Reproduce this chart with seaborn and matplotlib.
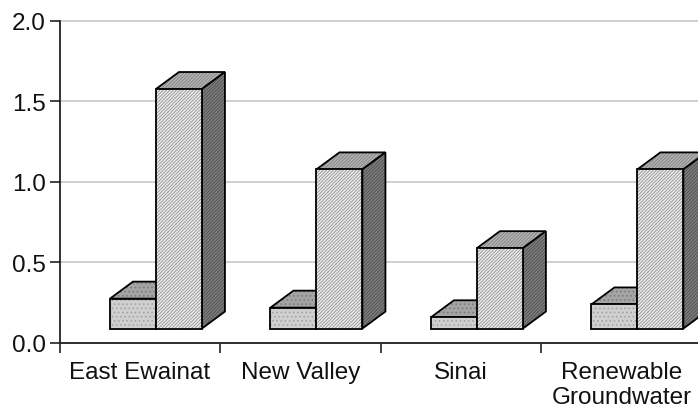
import pandas as pd
import matplotlib.pyplot as plt
import seaborn as sns
from matplotlib.colors import to_rgba
from matplotlib.patches import Polygon

regions = ["East Ewainat", "New Valley", "Sinai", "Renewable\nGroundwater"]
small_values = [0.186, 0.13, 0.07, 0.15]
tall_values = [1.49, 0.99, 0.5, 0.99]
y_ticks = [0.0, 0.5, 1.0, 1.5, 2.0]

# the 3D look: bars stand on a floor above the axis and get a top + side face
floor = 0.087
depth_x = 23 / 160.5
depth_y = 17 / 161

sns.set_style("white")
plt.rcParams["font.family"] = ["Liberation Sans", "DejaVu Sans"]
plt.rcParams["hatch.linewidth"] = 0.6

df = pd.DataFrame({
    "region": regions * 2,
    "value": small_values + tall_values,
    "series": ["small"] * 4 + ["tall"] * 4,
})

fig = plt.figure(figsize=(6.98, 4.14), dpi=100)
ax = fig.add_axes([60 / 698, 1 - 343.5 / 414, 640 / 698, 321.5 / 414])

sns.barplot(
    data=df, x="region", y="value", hue="series", order=regions,
    palette=["#cfcfcf", "#ececec"], saturation=1, width=0.573, gap=0,
    bottom=floor, edgecolor="black", linewidth=1.3, legend=False, ax=ax,
)

n = len(regions)
for i, bar in enumerate(ax.patches):
    tall = i >= n
    z = 4 if tall else 3
    bar.set_zorder(z + 0.2)
    bar.set_hatch("//////////" if tall else "....")
    bar._hatch_color = to_rgba("#909090" if tall else "#a0a0a0")
    x0, w = bar.get_x(), bar.get_width()
    y0, y1 = bar.get_y(), bar.get_y() + bar.get_height()
    top = Polygon(
        [(x0, y1), (x0 + depth_x, y1 + depth_y), (x0 + w + depth_x, y1 + depth_y), (x0 + w, y1)],
        facecolor="#b4b4b4" if tall else "#a4a4a4", edgecolor="black", linewidth=1.3,
        hatch="//////////" if tall else "....", zorder=z,
    )
    top._hatch_color = to_rgba("#808080" if tall else "#787878")
    side = Polygon(
        [(x0 + w, y0), (x0 + w + depth_x, y0 + depth_y), (x0 + w + depth_x, y1 + depth_y), (x0 + w, y1)],
        facecolor="#7c7c7c", edgecolor="black", linewidth=1.3,
        hatch="//////////", zorder=z,
    )
    side._hatch_color = to_rgba("#505050")
    ax.add_patch(top)
    ax.add_patch(side)

ax.set_ylim(0, 2)
ax.set_xlim(-0.598, 3.39)
ax.set_yticks(y_ticks)
ax.set_yticklabels([f"{v:.1f}" for v in y_ticks])
ax.set_xlabel("")
ax.set_ylabel("")

# ticks sit between the groups, labels in the middle of each slot
ax.set_xticks([i - 0.598 for i in range(n)])
ax.set_xticklabels([])
ax.set_xticks([i - 0.1 for i in range(n)], minor=True)
ax.set_xticklabels(regions, minor=True, linespacing=1.22)

ax.tick_params(axis="x", which="major", length=7, width=1.2, color="#222222", bottom=True)
ax.tick_params(axis="x", which="minor", length=0, pad=13, labelsize=17.5, colors="#111111", bottom=False)
ax.tick_params(axis="y", length=7, width=1.2, color="#222222", left=True, pad=3, labelsize=17.5, labelcolor="#111111")

ax.yaxis.grid(True, color="#cfcfcf", linewidth=1.4, clip_on=False)
ax.set_axisbelow(True)
sns.despine(ax=ax, top=True, right=True)
for s in ["left", "bottom"]:
    ax.spines[s].set_color("#222222")
    ax.spines[s].set_linewidth(1.3)

fig.savefig("out.png", dpi=100)
